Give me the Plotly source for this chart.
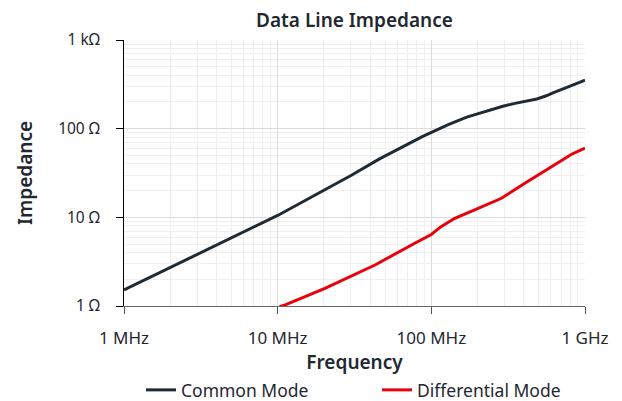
import plotly.graph_objects as go

# Frequency in MHz, impedance in ohms
cm_freq = [1, 3, 10, 20, 30, 46, 65, 88, 101, 130, 170, 207, 250, 292, 350, 486, 560, 618, 800, 1000]
cm_imp = [1.52, 3.85, 10.5, 20.2, 29.6, 45.6, 63, 82, 91.6, 112, 135, 150, 163, 179, 193, 216, 235, 254, 302, 353]

dm_freq = [10.3, 11.2, 20.3, 43, 78, 90.6, 100, 115, 142, 200, 286, 406, 607, 818, 1000]
dm_imp = [0.98, 1.03, 1.58, 2.9, 5.1, 5.8, 6.4, 7.8, 9.75, 12.5, 16.4, 24.2, 37.2, 51.5, 60.5]

x_tickvals = [1, 10, 100, 1000]
x_ticktext = ["1 MHz", "10 MHz", "100 MHz", "1 GHz"]
y_tickvals = [1, 10, 100, 1000]
y_ticktext = ["1 Ω", "10 Ω", "100 Ω", "1 kΩ"]

minor_x = [m * 10 ** e for e in range(0, 3) for m in range(2, 10)]
minor_y = [m * 10 ** e for e in range(0, 3) for m in range(2, 10)]

FONT = "Noto Sans"
TXT = "#1f2830"

fig = go.Figure()
fig.add_trace(go.Scatter(x=cm_freq, y=cm_imp, mode="lines", name="Common Mode",
                         line=dict(color="#1f2a33", width=3), legend="legend"))
fig.add_trace(go.Scatter(x=dm_freq, y=dm_imp, mode="lines", name="Differential Mode",
                         line=dict(color="#e8000b", width=3), legend="legend2"))

leg_common = dict(font=dict(size=17.5, color=TXT, family=FONT), itemwidth=30,
                  bgcolor="rgba(0,0,0,0)", yanchor="middle", xanchor="left")

fig.update_layout(
    width=622, height=401,
    margin=dict(l=124, r=37, t=40, b=95, autoexpand=False),
    paper_bgcolor="white", plot_bgcolor="white",
    font=dict(family=FONT, color=TXT, size=15),
    title=dict(text="Data Line Impedance", x=0.5, xref="paper", xanchor="center",
               yref="container", y=1 - 20 / 401, yanchor="middle",
               font=dict(size=19, family=FONT, color=TXT, weight=600)),
    showlegend=True,
    legend=dict(x=(141 - 124) / 461, y=-(390 - 306) / 266, **leg_common),
    legend2=dict(x=(377 - 124) / 461, y=-(390 - 306) / 266, **leg_common),
)

fig.update_xaxes(
    type="log", range=[0, 3], automargin=True,
    tickvals=x_tickvals, ticktext=x_ticktext,
    tickfont=dict(size=17, color=TXT), ticklabelstandoff=10,
    ticks="outside", ticklen=7, tickcolor="#555", tickwidth=1,
    showline=True, linecolor="#666", linewidth=1,
    showgrid=True, gridcolor="#dcdcdc", gridwidth=1,
    minor=dict(tickvals=minor_x, showgrid=True, gridcolor="#efefef", ticks=""),
    zeroline=False,
    title=dict(text="Frequency", font=dict(size=19, color=TXT, weight=600), standoff=6),
)
fig.update_yaxes(
    type="log", range=[0, 3], automargin=True,
    tickvals=y_tickvals, ticktext=y_ticktext,
    tickfont=dict(size=15.5, color=TXT), ticklabelstandoff=13,
    ticks="outside", ticklen=7, tickcolor="#000", tickwidth=1,
    showline=True, linecolor="#000", linewidth=1,
    showgrid=True, gridcolor="#dcdcdc", gridwidth=1,
    minor=dict(tickvals=minor_y, showgrid=True, gridcolor="#efefef", ticks=""),
    zeroline=False,
    title=dict(text="Impedance", font=dict(size=19, color=TXT, weight=600), standoff=20),
)

fig.write_html("out.html", config={"displayModeBar": False},
               post_script="document.body.style.margin='0';")
